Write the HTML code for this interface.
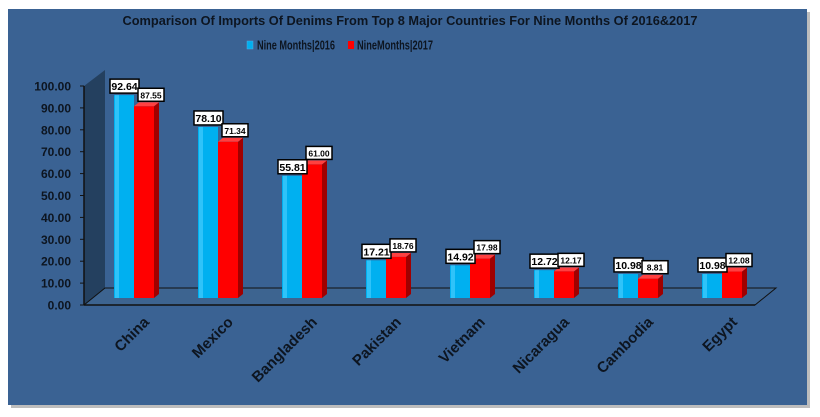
<!DOCTYPE html>
<html><head><meta charset="utf-8"><style>
html,body{margin:0;padding:0;background:#fff;}
svg{display:block;font-family:"Liberation Sans",sans-serif;}
</style></head><body>
<svg id="s" width="820" height="417" xmlns="http://www.w3.org/2000/svg">
<rect x="0" y="0" width="820" height="417" fill="#ffffff"/>
<rect x="11" y="12" width="799" height="396" fill="#bdbdbd"/>
<rect x="8" y="9" width="799" height="396" fill="#3a6293"/>
<text x="410" y="25" text-anchor="middle" font-size="12.5" font-weight="bold" fill="#0d1520" textLength="575" lengthAdjust="spacingAndGlyphs">Comparison Of Imports Of Denims From Top 8 Major Countries For Nine Months Of 2016&amp;2017</text>
<rect x="247" y="41" width="6" height="8" fill="#00b0f0" stroke="#5ad" stroke-width="0.5"/>
<text x="257" y="49.5" font-size="12.5" font-weight="bold" fill="#0d1520" textLength="78" lengthAdjust="spacingAndGlyphs">Nine Months|2016</text>
<rect x="348" y="41" width="6" height="8" fill="#ff0000"/>
<text x="357" y="49.5" font-size="12.5" font-weight="bold" fill="#0d1520" textLength="76" lengthAdjust="spacingAndGlyphs">NineMonths|2017</text>
<polygon points="84,86 105,70 105,288 84,305" fill="#24405f"/>
<polygon points="84,305 105,288 776,288 755,305" fill="#3d6490" stroke="#111" stroke-width="1"/>
<line x1="84" y1="305" x2="755" y2="305" stroke="#111" stroke-width="1.5"/>
<line x1="84" y1="86" x2="84" y2="305" stroke="#111" stroke-width="1.5"/>
<g id="g"></g>
</svg>
<script>
var g=document.getElementById('g'),h='';
for(var i=0;i<=10;i++){var y=305-i*21.9;h+='<text x="71" y="'+(y+4.5)+'" text-anchor="end" font-size="12" font-weight="bold" fill="#0d1520">'+(i*10)+'.00</text><line x1="80" y1="'+y+'" x2="84" y2="'+y+'" stroke="#111"/>';}
var d=[["China",92.64,87.55],["Mexico",78.10,71.34],["Bangladesh",55.81,61.00],["Pakistan",17.21,18.76],["Vietnam",14.92,17.98],["Nicaragua",12.72,12.17],["Cambodia",10.98,8.81],["Egypt",10.98,12.08]];
var k=2.19,base=298;
d.forEach(function(r,i){
 var x=114+i*84;
 var yb=base-r[1]*k, yr=base-r[2]*k;
 h+='<rect x="'+x+'" y="'+yb+'" width="20" height="'+(base-yb)+'" fill="#00b0f0"/>';
 h+='<rect x="'+(x+1)+'" y="'+yb+'" width="4" height="'+(base-yb)+'" fill="#4fd0ff" opacity="0.6"/>';
 h+='<polygon points="'+(x+40)+','+yr+' '+(x+45)+','+(yr-4)+' '+(x+45)+','+(base-4)+' '+(x+40)+','+base+'" fill="#a00000"/>';
 h+='<polygon points="'+(x+20)+','+yr+' '+(x+25)+','+(yr-4)+' '+(x+45)+','+(yr-4)+' '+(x+40)+','+yr+'" fill="#ff4040"/>';
 h+='<rect x="'+(x+20)+'" y="'+yr+'" width="20" height="'+(base-yr)+'" fill="#ff0000"/>';
 var lb=r[1].toFixed(2), lr=r[2].toFixed(2);
 h+='<rect x="'+(x-4)+'" y="'+(yb-16)+'" width="29" height="14" fill="#fff" stroke="#000" stroke-width="1.5"/>';
 h+='<text x="'+(x+10.5)+'" y="'+(yb-5)+'" text-anchor="middle" font-size="10.5" font-weight="bold" fill="#000">'+lb+'</text>';
 h+='<rect x="'+(x+24)+'" y="'+(yr-18)+'" width="26" height="13" fill="#fff" stroke="#000" stroke-width="1.5"/>';
 h+='<text x="'+(x+37)+'" y="'+(yr-8)+'" text-anchor="middle" font-size="8.5" font-weight="bold" fill="#000">'+lr+'</text>';
 h+='<text transform="translate('+(x+36)+',323) rotate(-45)" text-anchor="end" font-size="15" font-weight="bold" fill="#0d1520">'+r[0]+'</text>';
});
g.innerHTML=h;
</script>
</body></html>
